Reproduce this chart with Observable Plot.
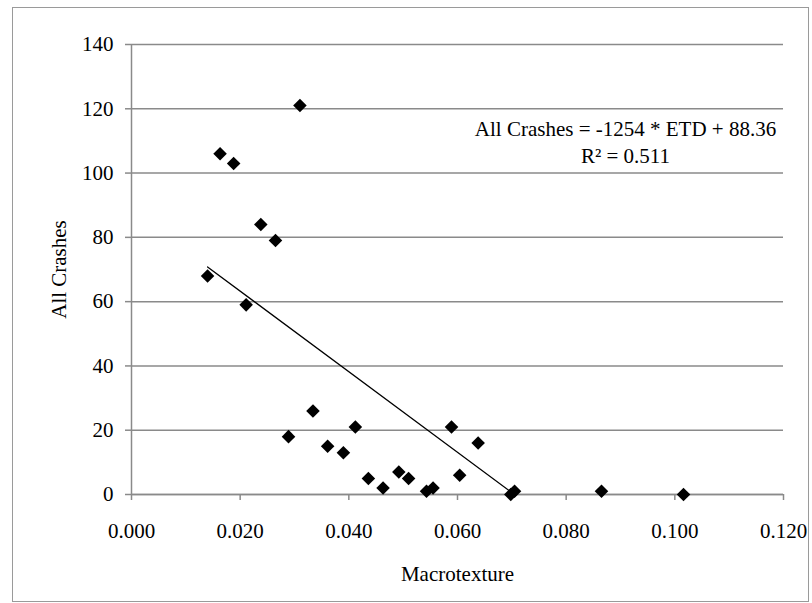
<!DOCTYPE html>
<html>
<head>
<meta charset="utf-8">
<script src="https://cdn.jsdelivr.net/npm/d3@7"></script>
<script src="https://cdn.jsdelivr.net/npm/@observablehq/plot@0.6"></script>
<style>
  html, body { margin: 0; padding: 0; background: #fff; }
</style>
</head>
<body>
<div id="chart"></div>
<script>
// Macrotexture (ETD) values
const macrotexture = [0.0310, 0.0163, 0.0188, 0.0238, 0.0265, 0.0140, 0.0211, 0.0334, 0.0289, 0.0412,
  0.0361, 0.0390, 0.0436, 0.0463, 0.0492, 0.0510, 0.0543, 0.0555, 0.0589, 0.0638,
  0.0604, 0.0698, 0.0705, 0.0865, 0.1016];
// All crashes
const crashes = [121, 106, 103, 84, 79, 68, 59, 26, 18, 21,
  15, 13, 5, 2, 7, 5, 1, 2, 21, 16,
  6, 0, 1, 1, 0];
const xTicks = [0, 0.02, 0.04, 0.06, 0.08, 0.10, 0.12];
const yTicks = [0, 20, 40, 60, 80, 100, 120, 140];
const slope = -1254;
const intercept = 88.36;
const r2 = 0.511;
const equationText = `All Crashes = ${slope} * ETD + ${intercept}\nR² = ${r2}`;

const points = macrotexture.map((x, i) => ({x, y: crashes[i]}));
const xMin = d3.min(macrotexture);
const xEnd = -intercept / slope; // trendline clipped at y = 0
const trend = [xMin, xEnd].map(x => ({x, y: slope * x + intercept}));

const grey = "#8a8a8a";
const chart = Plot.plot({
  width: 812,
  height: 603,
  marginLeft: 131,
  marginRight: 29,
  marginTop: 44,
  marginBottom: 109,
  style: {fontFamily: "'Liberation Serif', 'Times New Roman', serif", fontSize: "21px", background: "#fff", color: "#000"},
  x: {domain: [0, 0.12], ticks: xTicks, tickFormat: d3.format(".3f")},
  y: {domain: [0, 140], ticks: yTicks},
  marks: [
    Plot.gridY(yTicks, {stroke: grey, strokeOpacity: 1, strokeWidth: 1.5}),
    Plot.axisX(xTicks, {tickSize: 6, tickPadding: 23, stroke: grey, strokeWidth: 1.5, fill: "#000", fontSize: 21, tickFormat: d3.format(".3f"), label: null}),
    Plot.axisY(yTicks, {tickSize: 6, tickPadding: 12, stroke: grey, strokeWidth: 1.5, fill: "#000", fontSize: 21, label: null}),
    Plot.ruleX([0], {stroke: grey, strokeWidth: 1.5}),
    Plot.ruleY([0], {stroke: grey, strokeWidth: 1.5}),
    Plot.line(trend, {x: "x", y: "y", stroke: "#000", strokeWidth: 1.3}),
    Plot.dot(points, {x: "x", y: "y", symbol: "diamond2", r: 6.1, fill: "#000", stroke: "none"}),
    Plot.text([equationText], {frameAnchor: "top-right", textAnchor: "middle", lineAnchor: "top", dx: -158, dy: 72, fontSize: 21, lineHeight: 1.3, fill: "#000"}),
    Plot.text(["Macrotexture"], {frameAnchor: "bottom", lineAnchor: "bottom", dy: 86, fontSize: 21, fill: "#000"}),
    Plot.text(["All Crashes"], {frameAnchor: "left", rotate: -90, textAnchor: "middle", lineAnchor: "bottom", dx: -66, fontSize: 21, fill: "#000"})
  ]
});
d3.select(chart).append("rect")
  .attr("x", 12.5).attr("y", 7.5).attr("width", 796).attr("height", 594)
  .attr("fill", "none").attr("stroke", "#9a9a9a").attr("stroke-width", 1);
document.getElementById("chart").appendChild(chart);
</script>
</body>
</html>
